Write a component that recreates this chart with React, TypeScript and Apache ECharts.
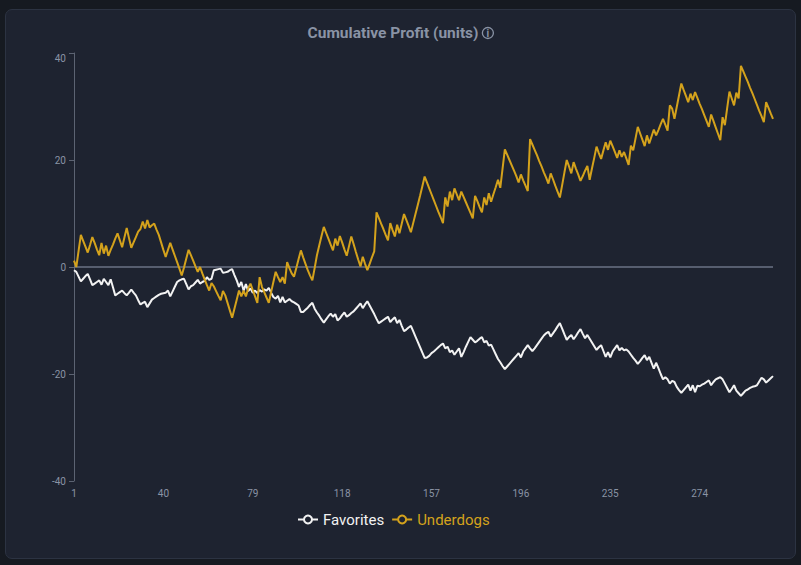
import React, { useEffect, useRef } from "react";
import * as echarts from "echarts";

const favorites = [
  -0.6, -0.9, -1.8, -2.7, -2.2, -1.7, -1.3, -2.3, -3.4, -3.1,
  -2.8, -2.5, -3.3, -2.2, -2.8, -3.4, -2.3, -3.8, -5.3, -5.0,
  -4.7, -4.4, -4.9, -5.3, -4.8, -4.2, -4.8, -5.3, -6.2, -7.0,
  -6.7, -6.5, -7.5, -6.8, -6.1, -5.8, -5.5, -5.2, -5.0, -4.9,
  -4.8, -4.4, -5.5, -4.6, -3.7, -2.8, -2.5, -2.3, -2.2, -3.2,
  -4.2, -3.6, -3.4, -2.9, -2.4, -3.1, -2.8, -2.6, -1.9, -2.4,
  -2.2, -0.6, -0.5, -0.4, -0.3, -1.1, -1.0, -0.9, -0.6, -0.4,
  -1.5, -2.5, -3.7, -2.8, -4.4, -3.2, -4.5, -4.0, -4.8, -4.4,
  -4.9, -4.3, -4.6, -4.2, -4.4, -3.9, -4.8, -5.6, -5.9, -5.4,
  -6.6, -5.6, -6.6, -6.3, -6.0, -6.4, -6.6, -6.9, -7.2, -8.4,
  -8.4, -8.0, -7.6, -7.1, -6.7, -7.8, -8.5, -9.1, -9.8, -10.4,
  -9.8, -9.2, -8.7, -9.3, -8.8, -10.0, -9.6, -9.0, -8.5, -9.3,
  -9.0, -8.6, -8.3, -7.8, -7.3, -6.8, -7.7, -7.0, -6.4, -7.2,
  -8.0, -8.8, -9.7, -10.5, -10.2, -9.9, -9.6, -9.3, -10.3, -9.8,
  -9.4, -10.5, -9.9, -11.0, -12.0, -11.7, -11.3, -11.0, -12.0, -13.0,
  -14.0, -15.0, -16.0, -17.0, -16.9, -16.6, -16.1, -15.8, -15.4, -15.0,
  -14.6, -14.3, -15.2, -14.9, -15.9, -15.6, -16.4, -15.8, -15.2, -16.8,
  -15.9, -14.9, -14.0, -13.1, -13.6, -14.1, -13.8, -13.4, -13.1, -14.1,
  -13.8, -14.7, -14.5, -15.4, -16.3, -17.2, -17.8, -18.5, -19.1, -18.6,
  -18.1, -17.6, -17.1, -16.6, -16.1, -16.9, -15.8, -15.2, -14.6, -15.2,
  -15.7, -15.2, -14.6, -14.0, -13.4, -12.8, -12.4, -12.1, -13.0, -12.4,
  -11.8, -11.1, -10.5, -11.5, -12.6, -13.6, -13.1, -12.7, -13.5, -12.9,
  -12.2, -11.6, -12.5, -13.3, -12.7, -13.4, -14.1, -14.8, -15.5, -15.0,
  -14.6, -15.7, -16.8, -15.9, -16.9, -15.8, -15.2, -14.6, -15.6, -15.1,
  -15.6, -15.4, -15.8, -16.4, -17.0, -17.5, -18.1, -17.6, -17.0, -16.5,
  -17.4, -16.8, -17.9, -19.0, -17.9, -18.9, -20.0, -21.0, -20.6, -21.0,
  -21.8, -21.3, -21.5, -22.4, -23.0, -23.5, -23.0, -22.5, -22.0, -23.1,
  -22.1, -23.4, -22.2, -22.3, -22.0, -21.8, -21.5, -21.2, -22.1, -21.5,
  -21.0, -20.8, -20.6, -21.0, -21.8, -22.6, -23.4, -22.8, -22.1, -23.1,
  -23.6, -24.1, -23.6, -23.1, -22.9, -22.6, -22.4, -22.3, -22.1, -21.4,
  -20.7, -21.0, -21.6, -21.2, -20.8, -20.4,
];

const underdogs = [
  1.2, 0.0, 3.0, 6.0, 4.9, 3.8, 2.7, 4.1, 5.6, 4.5,
  3.3, 2.2, 4.5, 2.5, 4.0, 2.1, 3.2, 4.2, 5.3, 6.3,
  5.0, 3.7, 5.5, 7.3, 5.4, 3.6, 4.6, 5.6, 6.6, 7.1,
  8.5, 7.2, 8.8, 7.4, 7.8, 8.1, 7.0, 6.0, 4.6, 3.2,
  1.9, 3.2, 4.5, 3.3, 2.1, 0.9, -0.3, -1.6, -0.1, 1.6,
  3.2, 2.2, 1.2, 0.1, -0.9, 0.0, -1.2, -2.3, -3.4, -4.4,
  -3.0, -3.6, -4.5, -5.4, -6.2, -4.5, -5.3, -6.7, -8.1, -9.5,
  -7.8, -6.1, -4.4, -5.5, -4.4, -5.5, -4.0, -3.1, -4.3, -5.5,
  -6.7, -1.9, -3.7, -4.7, -5.7, -6.7, -4.7, -2.8, -0.9, -1.9,
  -2.8, -1.9, -3.1, 0.9, -0.2, -1.2, -1.8, -0.2, 1.5, 3.1,
  1.8, 0.6, -0.6, -1.6, -2.5, -0.2, 2.2, 4.0, 5.8, 7.5,
  6.4, 5.3, 4.2, 3.1, 5.3, 4.0, 5.8, 4.6, 3.3, 2.1,
  3.9, 5.7, 4.3, 2.8, 1.4, 0.1, 1.9, 0.6, -0.6, 0.6,
  1.8, 2.9, 10.2, 9.2, 8.1, 7.1, 6.0, 5.0, 8.2, 6.9,
  5.7, 7.9, 6.3, 8.1, 9.9, 8.8, 7.7, 6.5, 8.2, 9.9,
  11.6, 13.3, 15.1, 16.9, 15.8, 14.7, 13.6, 12.5, 11.4, 10.3,
  9.3, 8.2, 13.0, 11.3, 14.1, 12.5, 14.7, 13.6, 12.5, 14.1,
  13.1, 12.1, 11.1, 10.1, 9.1, 13.3, 12.3, 11.2, 10.2, 13.0,
  11.6, 13.8, 12.2, 13.6, 14.9, 16.3, 14.8, 18.4, 22.0, 21.0,
  20.0, 19.0, 18.0, 17.0, 15.8, 17.3, 16.2, 15.2, 14.2, 23.9,
  22.9, 21.9, 20.9, 19.8, 18.8, 17.7, 16.7, 15.6, 17.5, 16.4,
  15.2, 14.1, 13.0, 15.3, 17.7, 20.0, 18.8, 17.5, 19.6, 18.4,
  17.3, 16.1, 17.0, 18.0, 18.9, 16.3, 18.4, 20.4, 22.5, 21.3,
  20.2, 21.8, 23.3, 21.9, 23.6, 22.6, 21.5, 20.4, 21.8, 20.6,
  21.5, 20.3, 19.1, 22.7, 21.8, 24.0, 26.2, 25.0, 23.8, 22.6,
  24.6, 23.1, 24.4, 25.7, 24.6, 25.6, 26.7, 27.7, 26.6, 25.5,
  30.2, 29.6, 27.7, 29.9, 32.1, 34.3, 33.1, 32.0, 30.8, 32.4,
  31.2, 32.7, 31.6, 30.5, 29.5, 28.4, 27.3, 26.2, 28.5, 27.3,
  26.1, 24.9, 23.7, 28.0, 26.5, 29.7, 32.8, 31.5, 30.2, 32.6,
  31.5, 37.6, 36.6, 35.6, 34.6, 33.5, 32.5, 31.4, 30.3, 29.2,
  28.2, 27.1, 30.8, 29.8, 28.7, 27.7,
];

const rounds = favorites.map((_, i) => String(i + 1));

const seriesNames = ["Favorites", "Underdogs"];
const seriesColors = ["#f2f2f2", "#d4a21c"];

const CARD_BG = "#1e2330";
const PAGE_BG = "#161a21";
const MUTED = "#8a93a5";
const FONT = "Roboto, 'Noto Sans', sans-serif";

export default function App() {
  const ref = useRef<HTMLDivElement>(null);

  useEffect(() => {
    if (!ref.current) return;
    const chart = echarts.init(ref.current, null, { renderer: "svg" });
    const mkSeries = (idx: number, data: number[]) => ({
      name: seriesNames[idx],
      type: "line",
      data,
      showSymbol: false,
      symbol: "circle",
      symbolSize: 8,
      itemStyle: {
        color: CARD_BG,
        borderColor: seriesColors[idx],
        borderWidth: 2,
      },
      lineStyle: { color: seriesColors[idx], width: 2 },
      z: 3,
    });
    const favSeries: any = mkSeries(0, favorites);
    favSeries.markLine = {
      silent: true,
      symbol: "none",
      z: 1,
      label: { show: false },
      lineStyle: { color: "#6b7384", width: 1.5, type: "solid" },
      data: [{ yAxis: 0 }],
    };
    chart.setOption({
      animation: false,
      backgroundColor: "transparent",
      textStyle: { fontFamily: FONT },
      title: {
        text: "Cumulative Profit (units) {i|i}",
        left: "center",
        top: 25,
        padding: 0,
        textStyle: {
          color: MUTED,
          fontSize: 15.5,
          fontWeight: "bold",
          fontFamily: FONT,
          rich: {
            i: {
              color: MUTED,
              fontSize: 10,
              fontWeight: "bold",
              width: 11,
              height: 11,
              lineHeight: 11,
              align: "center",
              borderColor: MUTED,
              borderWidth: 1.3,
              borderRadius: 7,
              padding: [0, 0, 0, 0],
            },
          },
        },
      },
      legend: {
        data: [
          { name: "Favorites", textStyle: { color: seriesColors[0] } },
          { name: "Underdogs", textStyle: { color: seriesColors[1] } },
        ],
        left: 297,
        top: 512,
        padding: 0,
        itemWidth: 20,
        itemHeight: 10,
        itemGap: 7,
        textStyle: { fontSize: 15, fontFamily: FONT },
      },
      grid: { left: 74, right: 28, top: 53, bottom: 84 },
      xAxis: {
        type: "category",
        data: rounds,
        boundaryGap: false,
        axisLine: { show: false },
        axisTick: { show: false },
        axisLabel: {
          interval: 38,
          color: MUTED,
          fontSize: 10,
          margin: 7,
        },
        splitLine: { show: false },
      },
      yAxis: {
        type: "value",
        min: -40,
        max: 40,
        interval: 20,
        axisLine: { show: true, lineStyle: { color: "#5c6372", width: 1 } },
        axisTick: { show: true, length: 5, lineStyle: { color: "#5c6372" } },
        axisLabel: {
          color: MUTED,
          fontSize: 10,
          margin: 8,
          verticalAlignMaxLabel: "top",
        },
        splitLine: { show: false },
      },
      series: [favSeries, mkSeries(1, underdogs)],
    });
    return () => chart.dispose();
  }, []);

  return (
    <div style={{ position: "fixed", inset: 0, background: PAGE_BG }}>
      <div
        style={{
          position: "absolute",
          left: 5,
          top: 9,
          width: 789,
          height: 548,
          background: CARD_BG,
          border: "1px solid #2c3342",
          borderRadius: 7,
        }}
      />
      <div
        ref={ref}
        style={{ position: "absolute", left: 0, top: 0, width: 801, height: 565 }}
      />
    </div>
  );
}
